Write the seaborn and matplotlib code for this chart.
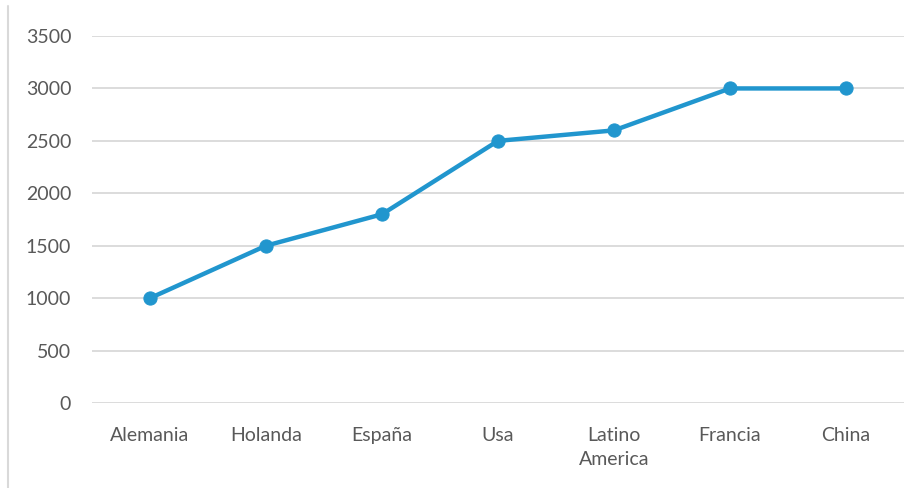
import matplotlib
matplotlib.use("Agg")
import matplotlib.pyplot as plt
from matplotlib.lines import Line2D
import seaborn as sns
import pandas as pd

categories = ["Alemania", "Holanda", "España", "Usa", "Latino\nAmerica", "Francia", "China"]
values = [1000, 1500, 1800, 2500, 2600, 3000, 3000]
y_ticks = [0, 500, 1000, 1500, 2000, 2500, 3000, 3500]

df = pd.DataFrame({"pais": categories, "valor": values})

sns.set_theme(style="white")
plt.rcParams["font.family"] = ["Lato", "DejaVu Sans"]

fig = plt.figure(figsize=(9.2, 4.88), dpi=100)
ax = fig.add_axes([0.1, 0.1742, 0.8826, 0.752])

line_color = "#2196CE"
sns.lineplot(data=df, x="pais", y="valor", ax=ax, sort=False, color=line_color,
             linewidth=3.2, marker="o", markersize=9.5, markeredgecolor=line_color,
             zorder=3)

ax.set_xlim(-0.5, len(categories) - 0.5)
ax.set_ylim(0, 3500)
ax.set_yticks(y_ticks)
ax.set_yticklabels([str(v) for v in y_ticks])
ax.yaxis.grid(True, color="#D9D9D9", linewidth=1.3)
ax.xaxis.grid(False)
ax.set_axisbelow(True)
for s in ax.spines.values():
    s.set_visible(False)
ax.set_xlabel("")
ax.set_ylabel("")
ax.tick_params(axis="x", length=0, pad=17, labelsize=14, labelcolor="#595959")
ax.tick_params(axis="y", length=0, pad=15, labelsize=14, labelcolor="#595959")
for lbl in ax.get_xticklabels():
    lbl.set_linespacing(1.55)

fig.add_artist(Line2D([8 / 920, 8 / 920], [0, 1 - 6 / 488], transform=fig.transFigure,
                      color="#D9D9D9", linewidth=1.5))

fig.savefig("out.png", dpi=100)
